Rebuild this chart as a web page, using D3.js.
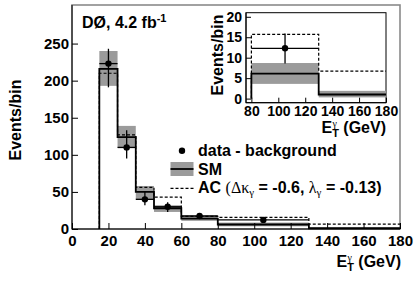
<!DOCTYPE html>
<html><head><meta charset="utf-8">
<script src="https://cdn.jsdelivr.net/npm/d3@7"></script>
<style>
body{margin:0;background:#fff;}
svg{display:block;}
text{font-family:"Liberation Sans",Arial,sans-serif;font-weight:bold;fill:#000;}
.greek{font-family:"Liberation Serif","Times New Roman",serif;font-weight:normal;}
</style></head>
<body>
<svg id="c" width="415" height="281"></svg>
<script>
// ---- data ----
const binEdges   = [15, 25, 35, 45, 60, 80, 130, 180];
const smValues   = [216, 124, 50, 28, 14, 6.1, 1.0];
const smBandLow  = [193, 109, 40, 23, 11, 3.6, 0.3];
const smBandHigh = [240, 139, 58, 32, 18, 8.7, 1.9];
const acValues   = [210, 127, 56, 43, 17, 15.7, 6.7];
const dataX      = [20, 30, 40, 52.5, 70, 105];
const dataY      = [223, 110, 40, 30, 17.5, 12.3];
const dataErrLow = [191, 95, 32, 23, 14, 8.6];
const dataErrHigh= [243, 133, 50, 36, 21, 15.9];
const dataXLow   = [15, 25, 35, 45, 60, 80];
const dataXHigh  = [25, 35, 45, 60, 80, 130];
const mainXTicks = [0, 20, 40, 60, 80, 100, 120, 140, 160, 180];
const mainYTicks = [0, 50, 100, 150, 200, 250];
const insetXTicks = [80, 100, 120, 140, 160, 180];
const insetYTicks = [0, 5, 10, 15, 20];
const insetFirstBin = 5;

const svg = d3.select("#c");
const bandColor = "#9b9b9b";

function drawPanel(g, x, y, firstBin, lineW, dotR) {
  const bins = d3.range(firstBin, smValues.length);
  g.selectAll(null).data(bins).enter().append("rect")
    .attr("x", i => x(binEdges[i])).attr("width", i => x(binEdges[i+1]) - x(binEdges[i]))
    .attr("y", i => y(smBandHigh[i])).attr("height", i => y(smBandLow[i]) - y(smBandHigh[i]))
    .attr("fill", bandColor);
  function stepPath(vals) {
    const p = d3.path();
    p.moveTo(x(binEdges[firstBin]), y(0));
    bins.forEach(i => { p.lineTo(x(binEdges[i]), y(vals[i])); p.lineTo(x(binEdges[i+1]), y(vals[i])); });
    return p.toString();
  }
  g.append("path").attr("d", stepPath(acValues)).attr("fill", "none")
    .attr("stroke", "#000").attr("stroke-width", 1.2).attr("stroke-dasharray", "3,2");
  g.append("path").attr("d", stepPath(smValues)).attr("fill", "none")
    .attr("stroke", "#000").attr("stroke-width", lineW);
  const pts = d3.range(dataX.length).filter(i => dataXHigh[i] > binEdges[firstBin]);
  const pg = g.selectAll(null).data(pts).enter().append("g");
  pg.append("line").attr("x1", i => x(dataX[i])).attr("x2", i => x(dataX[i]))
    .attr("y1", i => y(dataErrLow[i])).attr("y2", i => y(dataErrHigh[i]))
    .attr("stroke", "#000").attr("stroke-width", 1.3);
  pg.append("line").attr("x1", i => x(dataXLow[i])).attr("x2", i => x(dataXHigh[i]))
    .attr("y1", i => y(dataY[i])).attr("y2", i => y(dataY[i]))
    .attr("stroke", "#000").attr("stroke-width", 1.3);
  pg.append("circle").attr("cx", i => x(dataX[i])).attr("cy", i => y(dataY[i])).attr("r", dotR);
}

function axes(g, x, y, xt, yt, xMinorStep, yMinorStep, majLen, minLen, fs, padX, padY) {
  const [x0, x1] = x.domain(), [y0, y1] = y.domain();
  const xMinor = d3.range(Math.ceil(x0 / xMinorStep) * xMinorStep, x1 + 1e-9, xMinorStep);
  const yMinor = d3.range(Math.ceil(y0 / yMinorStep) * yMinorStep, y1 + 1e-9, yMinorStep);
  const bx = g.append("g").attr("transform", `translate(0,${y.range()[0]})`);
  bx.call(d3.axisBottom(x).tickValues(xMinor).tickSize(-minLen).tickFormat(""));
  bx.call(d3.axisBottom(x).tickValues(xt).tickSize(-majLen).tickPadding(padX).tickFormat(d3.format("d")));
  const ly = g.append("g").attr("transform", `translate(${x.range()[0]},0)`);
  ly.call(d3.axisLeft(y).tickValues(yMinor).tickSize(-minLen).tickFormat(""));
  ly.call(d3.axisLeft(y).tickValues(yt).tickSize(-majLen).tickPadding(padY).tickFormat(d3.format("d")));
  g.selectAll(".domain").remove();
  g.selectAll(".tick line").attr("stroke", "#000").attr("stroke-width", 1);
  g.selectAll(".tick text").attr("font-size", fs).attr("font-family", "Liberation Sans, Arial, sans-serif").attr("font-weight", "bold");
  g.append("line").attr("x1", x.range()[0]).attr("x2", x.range()[1]).attr("y1", y.range()[0]).attr("y2", y.range()[0]).attr("stroke", "#000");
  g.append("line").attr("x1", x.range()[0]).attr("x2", x.range()[0]).attr("y1", y.range()[0]).attr("y2", y.range()[1]).attr("stroke", "#000");
}

// ---- main panel ----
const x = d3.scaleLinear().domain([0, 180]).range([72, 400]);
const y = d3.scaleLinear().domain([0, 302]).range([229, 5]);
svg.append("rect").attr("x", 72).attr("y", 5).attr("width", 328).attr("height", 224)
  .attr("fill", "#fff").attr("stroke", "#8a8a8a").attr("stroke-width", 1.6);
const gm = svg.append("g");
drawPanel(gm, x, y, 0, 1.8, 3.2);
axes(svg.append("g"), x, y, mainXTicks, mainYTicks, 5, 10, 6, 3, 15, 6, 3);

const t = svg.append("text").attr("x", 82).attr("y", 28).attr("font-size", 16);
t.append("tspan").text("DØ, 4.2 fb");
t.append("tspan").attr("font-size", 11).attr("dy", -6).text("-1");

svg.append("text").attr("transform", "translate(21,120) rotate(-90)").attr("text-anchor", "middle")
  .attr("font-size", 16).text("Events/bin");

function etLabel(xEnd, yBase) {
  const tx = svg.append("text").attr("x", xEnd).attr("y", yBase).attr("text-anchor", "end").attr("font-size", 16);
  tx.append("tspan").text("E");
  tx.append("tspan").attr("font-size", 11).attr("dy", 4).text("T");
  tx.append("tspan").attr("class", "greek").attr("font-size", 10).attr("dx", -6.5).attr("dy", -10).text("γ");
  tx.append("tspan").attr("dx", 2).attr("dy", 6).text(" (GeV)");
}
etLabel(401, 267);

const lg = svg.append("g");
lg.append("circle").attr("cx", 182).attr("cy", 150.7).attr("r", 3.2);
lg.append("text").attr("x", 198).attr("y", 156).attr("font-size", 16).text("data - background");
lg.append("rect").attr("x", 170.5).attr("y", 162).attr("width", 23).attr("height", 14).attr("fill", bandColor);
lg.append("line").attr("x1", 170.5).attr("x2", 193.5).attr("y1", 169).attr("y2", 169).attr("stroke", "#000").attr("stroke-width", 1.8);
lg.append("text").attr("x", 198).attr("y", 175).attr("font-size", 16).text("SM");
lg.append("line").attr("x1", 170.5).attr("x2", 193.5).attr("y1", 188.3).attr("y2", 188.3).attr("stroke", "#000").attr("stroke-width", 1.2).attr("stroke-dasharray", "3,2");
const ac = lg.append("text").attr("x", 198).attr("y", 193).attr("font-size", 16);
ac.append("tspan").text("AC ");
ac.append("tspan").attr("class", "greek").text("(Δκ");
ac.append("tspan").attr("class", "greek").attr("font-size", 11).attr("dy", 3).text("γ");
ac.append("tspan").attr("dy", -3).text(" = -0.6, ");
ac.append("tspan").attr("class", "greek").text("λ");
ac.append("tspan").attr("class", "greek").attr("font-size", 11).attr("dy", 3).text("γ");
ac.append("tspan").attr("dy", -3).text(" = -0.13)");

// ---- inset ----
const xi = d3.scaleLinear().domain([76, 180]).range([246, 386]);
const yi = d3.scaleLinear().domain([-1, 21]).range([102.7, 12.7]);
svg.append("rect").attr("x", 246).attr("y", 12.7).attr("width", 140).attr("height", 90)
  .attr("fill", "#fff").attr("stroke", "#000").attr("stroke-width", 1);
const gi = svg.append("g");
drawPanel(gi, xi, yi, insetFirstBin, 1.8, 3.2);
axes(svg.append("g"), xi, yi, insetXTicks, insetYTicks, 5, 1, 5, 2.5, 14, 3, 4);
svg.append("text").attr("transform", "translate(223,55) rotate(-90)").attr("text-anchor", "middle")
  .attr("font-size", 16).text("Events/bin");
etLabel(386, 133);
</script>
</body></html>
